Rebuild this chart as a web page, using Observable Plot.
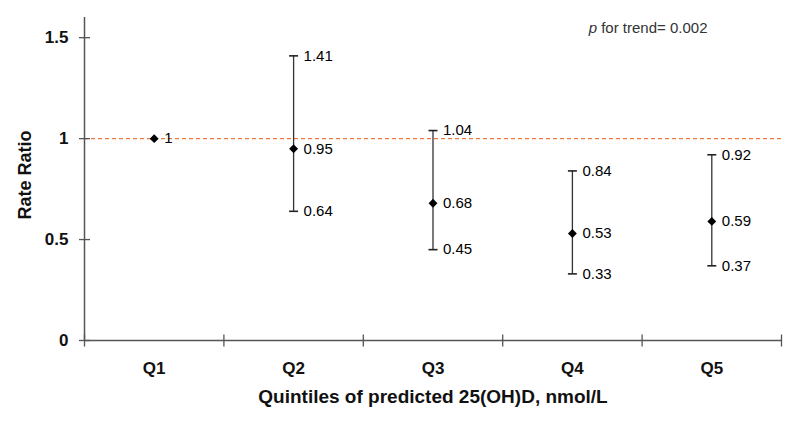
<!DOCTYPE html>
<html>
<head>
<meta charset="utf-8">
<script src="https://cdn.jsdelivr.net/npm/d3@7"></script>
<script src="https://cdn.jsdelivr.net/npm/@observablehq/plot@0.6"></script>
<style>
  html, body { margin: 0; padding: 0; background: #fff; }
  #chart { width: 800px; height: 426px; }
</style>
</head>
<body>
<div id="chart"></div>
<script>
// ---- data ----
const categories = ["Q1", "Q2", "Q3", "Q4", "Q5"];
const rateRatio = [1, 0.95, 0.68, 0.53, 0.59];
const lowerCI = [null, 0.64, 0.45, 0.33, 0.37];
const upperCI = [null, 1.41, 1.04, 0.84, 0.92];
const yTicks = [0, 0.5, 1, 1.5];
const yTickLabels = ["0", "0.5", "1", "1.5"];
const referenceLine = [1];
const trendNote = "p for trend= 0.002";
const xTitle = "Quintiles of predicted 25(OH)D, nmol/L";
const yTitle = "Rate Ratio";

// ---- table built from arrays ----
const rows = categories.map((q, i) => ({
  q, pos: i + 1, rr: rateRatio[i], lo: lowerCI[i], hi: upperCI[i]
}));
const ciRows = rows.filter(d => d.lo != null);
const xDomain = [0.5, categories.length + 0.5];
const boundaries = d3.range(xDomain[0], xDomain[1] + 0.01, 1);

// custom cap symbols (r in px)
const hCap = { draw(ctx, size) { const r = Math.sqrt(size / Math.PI); ctx.moveTo(-r, 0); ctx.lineTo(r, 0); } };
const vCap = { draw(ctx, size) { const r = Math.sqrt(size / Math.PI); ctx.moveTo(0, -r); ctx.lineTo(0, r); } };

const axisColor = "#555";
const font = "'Liberation Sans', Arial, Helvetica, sans-serif";

const plot = Plot.plot({
  width: 800,
  height: 426,
  marginLeft: 84,
  marginRight: 19,
  marginTop: 17,
  marginBottom: 86,
  style: { fontFamily: font, background: "#fff", color: "#000" },
  x: { type: "linear", domain: xDomain, axis: null },
  y: { domain: [0, 1.6], axis: null },
  marks: [
    // reference line
    Plot.ruleY(referenceLine, { stroke: "#f07a3c", strokeWidth: 1.3, strokeDasharray: "4,3" }),
    // axis lines
    Plot.ruleX([xDomain[0]], { y1: 0, y2: 1.6, stroke: axisColor, strokeWidth: 1.5 }),
    Plot.ruleY([0], { stroke: axisColor, strokeWidth: 1.5 }),
    // y ticks crossing axis
    Plot.dot(yTicks, { x: () => xDomain[0], y: d => d, symbol: hCap, r: 5.5, fill: "none", stroke: axisColor, strokeWidth: 1.3 }),
    // x boundary ticks crossing axis
    Plot.dot(boundaries, { x: d => d, y: () => 0, symbol: vCap, r: 6, fill: "none", stroke: axisColor, strokeWidth: 1.3 }),
    // y tick labels
    Plot.axisY({ ticks: yTicks, tickFormat: d => yTickLabels[yTicks.indexOf(d)], tickSize: 0, tickPadding: 16, fontSize: 17, fontWeight: "bold", fill: "#111", label: null }),
    // x category labels
    Plot.axisX({ ticks: rows.map(d => d.pos), tickFormat: d => categories[d - 1], tickSize: 0, tickPadding: 21, fontSize: 17, fontWeight: "bold", fill: "#111", label: null }),
    // error bars
    Plot.ruleX(ciRows, { x: "pos", y1: "lo", y2: "hi", stroke: "#333", strokeWidth: 1.3 }),
    Plot.dot(ciRows, { x: "pos", y: "hi", symbol: hCap, r: 4.5, fill: "none", stroke: "#222", strokeWidth: 1.6 }),
    Plot.dot(ciRows, { x: "pos", y: "lo", symbol: hCap, r: 4.5, fill: "none", stroke: "#222", strokeWidth: 1.6 }),
    // points
    Plot.dot(rows, { x: "pos", y: "rr", symbol: "diamond2", r: 4, fill: "#000", stroke: "none" }),
    // value labels
    Plot.text(rows, { x: "pos", y: "rr", text: d => String(d.rr), dx: 10, textAnchor: "start", fontSize: 15, fill: "#000" }),
    Plot.text(ciRows, { x: "pos", y: "hi", text: d => String(d.hi), dx: 10, textAnchor: "start", fontSize: 15, fill: "#000" }),
    Plot.text(ciRows, { x: "pos", y: "lo", text: d => String(d.lo), dx: 10, textAnchor: "start", fontSize: 15, fill: "#000" }),
    // titles
    Plot.text([yTitle], { frameAnchor: "left", textAnchor: "middle", lineAnchor: "middle", dx: -59, dy: -4, rotate: -90, fontSize: 18, fontWeight: "bold", fill: "#111" }),
    Plot.text([xTitle], { frameAnchor: "bottom", textAnchor: "middle", lineAnchor: "middle", dy: 56, fontSize: 19, fontWeight: "bold", fill: "#111" }),
    // trend note
    Plot.text([trendNote], { frameAnchor: "top-right", textAnchor: "end", lineAnchor: "middle", dx: -74, dy: 11, fontSize: 15, fill: "#333" })
  ]
});

document.getElementById("chart").appendChild(plot);

// italicise the "p" in the trend note
const noteEl = Array.from(plot.querySelectorAll("text")).find(e => e.textContent === trendNote);
if (noteEl) {
  const ns = "http://www.w3.org/2000/svg";
  noteEl.textContent = "";
  const p = document.createElementNS(ns, "tspan");
  p.setAttribute("font-style", "italic");
  p.textContent = trendNote.slice(0, 1);
  const rest = document.createElementNS(ns, "tspan");
  rest.textContent = trendNote.slice(1);
  noteEl.appendChild(p);
  noteEl.appendChild(rest);
}
</script>
</body>
</html>
